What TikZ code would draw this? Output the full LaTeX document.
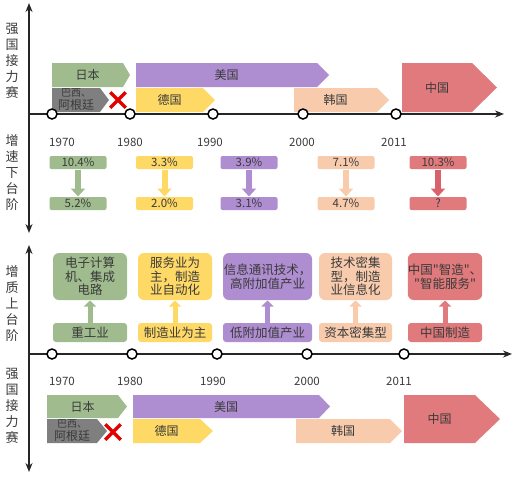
\documentclass[tikz,border=0pt]{standalone}
\usepackage{fontspec}
\setmainfont{Noto Sans CJK SC}[Ligatures=TeXOff]
\usetikzlibrary{arrows.meta, shapes.misc}

\definecolor{cgreen}{HTML}{A0BC8E}
\definecolor{cgray}{HTML}{7F7F7F}
\definecolor{cpurple}{HTML}{AF8DD1}
\definecolor{cyellow}{HTML}{FFD966}
\definecolor{cpeach}{HTML}{F8CBAD}
\definecolor{cred}{HTML}{E07A7C}
\definecolor{cdred}{HTML}{D9626A}
\definecolor{ctext}{HTML}{3A3A3A}

\newcommand{\smallcn}{\fontsize{10}{11.5}\selectfont}
% flag: name, x-left, y-top, x-body-end, x-tip, y-bottom, colour, text
\newcommand{\country}[8]{%
  \fill[#7] (#2,#3) -- (#4,#3) -- (#5,{(#3+#6)/2}) -- (#4,#6) -- (#2,#6) -- cycle;
  \node[flaglbl] (#1) at ({(#2+#4)/2},{(#3+#6)/2}) {#8};
}

\begin{document}
\begin{tikzpicture}[x=1pt, y=-1pt, line width=1pt,
    flaglbl/.style={text=ctext, font=\fontsize{12}{13}\selectfont, align=center, inner sep=0pt},
    yr/.style={text=ctext, font=\fontsize{11.5}{12}\selectfont, inner sep=0pt},
    vlbl/.style={text=ctext, align=center, font=\fontsize{13}{16}\selectfont, inner sep=0pt},
    rate/.style={rounded corners=2pt, minimum width=57pt, minimum height=13pt, inner sep=0pt,
      text=ctext, font=\fontsize{11.5}{12}\selectfont},
    upbox/.style={rounded corners=6pt, minimum height=47pt, inner sep=0pt, text=ctext,
      align=center, font=\fontsize{12.5}{13.5}\selectfont},
    lowbox/.style={rounded corners=3pt, minimum height=19pt, inner sep=0pt, text=ctext,
      font=\fontsize{12.5}{13.5}\selectfont},
    downarr/.style={line width=6pt, -{Triangle[width=14pt, length=8pt]}},
    uparr/.style={line width=5pt, -{Triangle[width=12pt, length=6pt]}},
    axis/.style={line width=2.5pt, color=black!85},
    dot/.style={circle, draw=black, fill=white, line width=1.5pt, minimum size=10pt, inner sep=0pt},
    nope/.style={cross out, draw=red!90!black, line width=3.5pt, minimum size=12pt, inner sep=0pt}]
  \useasboundingbox (0,0) rectangle (524,480);

  % ---------- top: relay of powers ----------
  \country{jpA}{52}{63}{123}{130}{87}{cgreen}{日本}
  \country{brA}{52}{88}{100}{109}{112}{cgray}{\smallcn 巴西、\\阿根廷}
  \country{usA}{136}{63}{317}{329}{87}{cpurple}{美国}
  \country{deA}{136}{88}{203}{215}{112}{cyellow}{德国}
  \country{krA}{294}{88}{377}{389}{112}{cpeach}{韩国}
  \country{cnA}{402}{63}{472}{497}{112}{cred}{中国}
  \node[nope] (xA) at (118,100) {};

  \coordinate (axTop) at (29,3);
  \coordinate (axMidA) at (29,233);
  \coordinate (tlA0) at (29,114);
  \coordinate (tlA1) at (504,114);
  \draw[axis, {Stealth[length=9pt, width=7pt]}-{Stealth[length=9pt, width=7pt]}] (axTop) -- (axMidA);
  \draw[axis, -{Stealth[length=9pt, width=7pt]}] (tlA0) -- (tlA1);
  \foreach \x [count=\i] in {52,130,213,303,396}
    \node[dot] (dA\i) at (\x,114) {};

  \node[vlbl] (vA) at (12,60.5) {强\\国\\接\\力\\赛};
  \node[vlbl] (vB) at (12,173) {增\\速\\下\\台\\阶};

  % years
  \foreach \x/\y [count=\i] in {62/1970,130/1980,210/1990,302/2000,394/2011}
    \node[yr] (yA\i) at (\x,142) {\y};

  % ---------- growth rate steps down ----------
  \node[rate, fill=cgreen] (r1a) at (78,162.5) {10.4\%};
  \node[rate, fill=cgreen] (r1b) at (78,203.5) {5.2\%};
  \node[rate, fill=cyellow] (r2a) at (164.5,162.5) {3.3\%};
  \node[rate, fill=cyellow] (r2b) at (164.5,203.5) {2.0\%};
  \node[rate, fill=cpurple] (r3a) at (249,162.5) {3.9\%};
  \node[rate, fill=cpurple] (r3b) at (249,203.5) {3.1\%};
  \node[rate, fill=cpeach] (r4a) at (346,162.5) {7.1\%};
  \node[rate, fill=cpeach] (r4b) at (346,203.5) {4.7\%};
  \node[rate, fill=cred] (r5a) at (438,162.5) {10.3\%};
  \node[rate, fill=cred] (r5b) at (438,203.5) {?};
  \draw[downarr, cgreen] (r1a) -- (r1b);
  \draw[downarr, cyellow] (r2a) -- (r2b);
  \draw[downarr, cpurple] (r3a) -- (r3b);
  \draw[downarr, cpeach] (r4a) -- (r4b);
  \draw[downarr, cdred] (r5a) -- (r5b);

  % ---------- quality steps up ----------
  \node[upbox, fill=cgreen, minimum width=74pt] (u1) at (90,276.5) {电子计算\\机、集成\\电路};
  \node[upbox, fill=cyellow, minimum width=74pt] (u2) at (175,276.5) {服务业为\\主，制造\\业自动化};
  \node[upbox, fill=cpurple, minimum width=89pt] (u3) at (267.5,276.5) {信息通讯技术，\\高附加值产业};
  \node[upbox, fill=cpeach, minimum width=73pt] (u4) at (355.5,276.5) {技术密集\\型，制造\\业信息化};
  \node[upbox, fill=cred, minimum width=74pt] (u5) at (445,276.5) {中国"智造"、\\"智能服务"};
  \node[lowbox, fill=cgreen, minimum width=74pt] (l1) at (90,332.5) {重工业};
  \node[lowbox, fill=cyellow, minimum width=74pt] (l2) at (175,332.5) {制造业为主};
  \node[lowbox, fill=cpurple, minimum width=89pt] (l3) at (267.5,332.5) {低附加值产业};
  \node[lowbox, fill=cpeach, minimum width=73pt] (l4) at (355.5,332.5) {资本密集型};
  \node[lowbox, fill=cred, minimum width=74pt] (l5) at (445,332.5) {中国制造};
  \draw[uparr, cgreen] (l1) -- (u1);
  \draw[uparr, cyellow] (l2) -- (u2);
  \draw[uparr, cpurple] (l3) -- (u3);
  \draw[uparr, cpeach] (l4) -- (u4);
  \draw[uparr, cred] (l5) -- (u5);

  \node[vlbl] (vC) at (12,304) {增\\质\\上\\台\\阶};

  \coordinate (axMidB) at (29,245);
  \coordinate (axBot) at (29,472);
  \coordinate (tlB0) at (29,354);
  \coordinate (tlB1) at (512,354);
  \draw[axis, {Stealth[length=9pt, width=7pt]}-{Stealth[length=9pt, width=7pt]}] (axMidB) -- (axBot);
  \draw[axis, -{Stealth[length=9pt, width=7pt]}] (tlB0) -- (tlB1);
  \foreach \x [count=\i] in {52,132,217,307,404}
    \node[dot] (dB\i) at (\x,354) {};

  % ---------- bottom: relay of powers ----------
  \foreach \x/\y [count=\i] in {62/1970,130/1980,213/1990,307/2000,399/2011}
    \node[yr] (yB\i) at (\x,381) {\y};

  \country{jpB}{47}{395}{118}{127}{418}{cgreen}{日本}
  \country{brB}{47}{419}{97}{107}{443}{cgray}{\smallcn 巴西、\\阿根廷}
  \country{usB}{133}{395}{319}{330}{418}{cpurple}{美国}
  \country{deB}{133}{419}{200}{213}{443}{cyellow}{德国}
  \country{krB}{296}{419}{390}{402}{443}{cpeach}{韩国}
  \country{cnB}{404}{395}{475}{500}{443}{cred}{中国}
  \node[nope] (xB) at (113,432) {};

  \node[vlbl] (vD) at (12,406) {强\\国\\接\\力\\赛};
\end{tikzpicture}
\end{document}
